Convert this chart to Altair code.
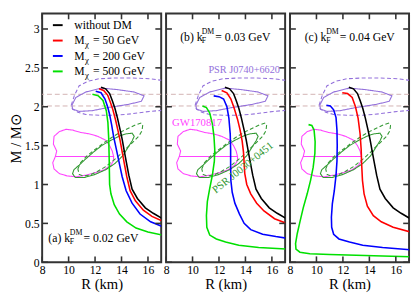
import altair as alt
import pandas as pd

# ---------------- data ----------------
xticks = [8, 10, 12, 14, 16]
yticks = [0, 0.5, 1, 1.5, 2, 2.5, 3]

series_keys = ["noDM", "m50", "m200", "m500"]
legend_pre = ["without DM", "M", "M", "M"]
legend_sub = ["", "χ", "χ", "χ"]
legend_post = ["", "= 50 GeV", "= 200 GeV", "= 500 GeV"]

panel_tags = ["(a)", "(b)", "(c)"]
panel_kf = ["= 0.02 GeV", "= 0.03 GeV", "= 0.04 GeV"]
panel_tag_R = [8.47, 9.07, 9.11]
panel_tag_M = [0.31, 2.90, 2.90]

# without DM (same in every panel)
R_noDM = [12.45, 12.80, 13.10, 13.30, 13.50, 13.70, 13.90, 14.05, 14.20, 14.35, 14.55, 14.80, 15.20, 15.80, 16.40, 17.10]
M_noDM = [2.25, 2.23, 2.17, 2.08, 1.98, 1.85, 1.70, 1.58, 1.44, 1.30, 1.12, 0.94, 0.82, 0.70, 0.63, 0.56]

# (a) kF = 0.02 GeV
R_a50 = [12.30, 12.65, 12.95, 13.15, 13.35, 13.55, 13.75, 13.90, 14.05, 14.20, 14.40, 14.65, 15.05, 15.65, 16.30, 17.10]
M_a50 = [2.23, 2.21, 2.15, 2.06, 1.96, 1.83, 1.68, 1.56, 1.42, 1.28, 1.10, 0.92, 0.79, 0.67, 0.59, 0.53]
R_a200 = [12.05, 12.45, 12.75, 12.95, 13.10, 13.25, 13.40, 13.55, 13.70, 13.85, 14.05, 14.35, 14.80, 15.40, 16.20, 17.10]
M_a200 = [2.20, 2.18, 2.10, 2.00, 1.90, 1.77, 1.62, 1.50, 1.38, 1.26, 1.10, 0.92, 0.76, 0.62, 0.52, 0.46]
R_a500 = [11.80, 12.25, 12.60, 12.85, 12.97, 13.03, 13.06, 13.08, 13.10, 13.20, 13.45, 13.85, 14.40, 15.10, 16.00, 17.10]
M_a500 = [2.16, 2.14, 2.08, 1.95, 1.80, 1.60, 1.40, 1.20, 1.00, 0.88, 0.74, 0.62, 0.52, 0.44, 0.39, 0.35]

# (b) kF = 0.03 GeV
R_b50 = [12.20, 12.60, 12.90, 13.15, 13.40, 13.60, 13.75, 13.85, 13.90, 13.95, 14.10, 14.40, 14.85, 15.40, 16.20, 17.10]
M_b50 = [2.21, 2.18, 2.10, 1.98, 1.84, 1.70, 1.56, 1.42, 1.28, 1.14, 1.00, 0.88, 0.76, 0.66, 0.56, 0.50]
R_b200 = [11.60, 12.00, 12.35, 12.60, 12.75, 12.85, 12.88, 12.88, 12.90, 13.00, 13.20, 13.55, 13.90, 14.40, 15.30, 16.30, 17.10]
M_b200 = [2.14, 2.13, 2.10, 2.00, 1.85, 1.65, 1.45, 1.25, 1.05, 0.90, 0.76, 0.62, 0.50, 0.42, 0.36, 0.33, 0.31]
R_b500 = [10.75, 11.05, 11.30, 11.50, 11.62, 11.68, 11.65, 11.50, 11.30, 11.12, 11.05, 11.08, 11.30, 11.80, 12.50, 13.50, 15.00, 17.10]
M_b500 = [2.01, 1.99, 1.92, 1.78, 1.62, 1.45, 1.30, 1.12, 0.95, 0.78, 0.60, 0.45, 0.35, 0.30, 0.26, 0.22, 0.19, 0.17]

# (c) kF = 0.04 GeV
R_c50 = [11.95, 12.35, 12.70, 12.95, 13.15, 13.30, 13.38, 13.42, 13.48, 13.60, 13.85, 14.30, 14.90, 15.80, 17.10]
M_c50 = [2.18, 2.17, 2.12, 2.00, 1.85, 1.65, 1.45, 1.25, 1.05, 0.88, 0.72, 0.60, 0.52, 0.45, 0.39]
R_c200 = [10.75, 11.05, 11.30, 11.48, 11.55, 11.57, 11.55, 11.48, 11.35, 11.20, 11.13, 11.15, 11.30, 11.70, 12.50, 13.50, 15.00, 17.10]
M_c200 = [2.02, 2.01, 1.96, 1.86, 1.70, 1.50, 1.30, 1.12, 0.92, 0.75, 0.58, 0.45, 0.36, 0.30, 0.26, 0.22, 0.19, 0.16]
R_c500 = [9.40, 9.65, 9.82, 9.90, 9.88, 9.75, 9.55, 9.30, 9.00, 8.75, 8.55, 8.42, 8.45, 8.75, 9.50, 11.00, 13.00, 15.00, 17.10]
M_c500 = [1.77, 1.76, 1.70, 1.55, 1.40, 1.22, 1.05, 0.88, 0.70, 0.52, 0.37, 0.24, 0.17, 0.13, 0.11, 0.10, 0.09, 0.08, 0.07]

# PSR J0740+6620 mass band and contours
j0740_band = [2.01, 2.16]
R_j0740_68 = [10.25, 10.55, 11.30, 12.50, 13.70, 14.95, 15.70, 15.50, 14.50, 13.00, 11.80, 10.80, 10.30, 10.25]
M_j0740_68 = [2.02, 2.12, 2.19, 2.24, 2.22, 2.19, 2.14, 2.07, 2.03, 1.99, 1.95, 1.94, 1.97, 2.02]
R_j0740_95 = [10.20, 10.45, 10.80, 11.50, 12.30, 13.50, 14.80, 16.10, 17.50, 18.50, 18.80, 18.50, 17.50, 16.10, 14.80, 13.50, 12.30, 11.30, 10.70, 10.30, 10.20]
M_j0740_95 = [2.02, 2.15, 2.27, 2.33, 2.36, 2.37, 2.37, 2.36, 2.33, 2.25, 2.13, 2.02, 1.96, 1.94, 1.91, 1.89, 1.89, 1.90, 1.93, 1.97, 2.02]

# GW170817 (two lobes)
R_gw_up = [9.00, 9.10, 8.85, 8.90, 9.30, 9.80, 10.30, 10.90, 11.60, 12.20, 12.80, 13.10, 13.30, 13.40, 9.00]
M_gw_up = [1.36, 1.43, 1.52, 1.62, 1.68, 1.71, 1.70, 1.67, 1.65, 1.62, 1.57, 1.50, 1.43, 1.36, 1.36]
R_gw_lo = [9.00, 8.80, 8.90, 9.30, 9.90, 10.60, 11.30, 12.00, 12.70, 13.20, 13.40, 13.40, 9.00]
M_gw_lo = [1.36, 1.28, 1.20, 1.14, 1.11, 1.10, 1.12, 1.15, 1.19, 1.25, 1.31, 1.36, 1.36]

# PSR J0030+0451
R_j0030_68 = [10.50, 11.20, 12.00, 12.80, 13.50, 14.10, 14.50, 14.80, 14.96, 14.80, 14.30, 13.80, 13.10, 12.50, 11.90, 11.30, 10.80, 10.40, 10.30, 10.50]
M_j0030_68 = [1.09, 1.09, 1.13, 1.19, 1.27, 1.37, 1.48, 1.56, 1.62, 1.66, 1.65, 1.62, 1.56, 1.50, 1.42, 1.33, 1.25, 1.19, 1.14, 1.09]
R_j0030_95 = [10.70, 10.90, 11.40, 12.00, 12.70, 13.40, 14.00, 14.60, 15.10, 15.50, 15.60, 15.55, 15.30, 14.90, 14.40, 14.00, 13.40, 12.80, 12.20, 11.60, 11.10, 10.80, 10.70]
M_j0030_95 = [1.20, 1.28, 1.37, 1.45, 1.54, 1.62, 1.68, 1.73, 1.77, 1.79, 1.76, 1.69, 1.62, 1.55, 1.47, 1.40, 1.31, 1.23, 1.17, 1.12, 1.11, 1.13, 1.20]

obs_texts = ["PSR J0740+6620", "GW170817", "PSR J0030+0451"]
obs_R = [11.20, 8.45, 11.75]
obs_M = [2.47, 1.79, 0.88]

# ---------------- styling / layout ----------------
FONT = "Liberation Serif"
W, H = 122, 255
TICK = 6
FRAME = "#333333"

contour_keys = ["J0740", "GW", "J0030"]
cscale = alt.Scale(domain=series_keys + contour_keys,
                   range=["#000000", "#ff0000", "#0000ff", "#00e000",
                          "#9370db", "#ff44ff", "#339933"])
dscale = alt.Scale(domain=["solid", "dashed"], range=[[1, 0], [4, 2.5]])
xs = alt.Scale(domain=[8, 17], nice=False, zero=False)
ys = alt.Scale(domain=[0, 3.2], nice=False, zero=False)

xaxis = alt.Axis(values=xticks, ticks=False, domain=False, grid=False, labelFlush=False,
                 labelFont=FONT, labelFontSize=12, labelPadding=3, labelColor="black",
                 title="R (km)", titleFont=FONT, titleFontSize=15, titleFontWeight="normal",
                 titlePadding=1, titleColor="black")


def yaxis(show):
    if show:
        return alt.Axis(values=yticks, format="~g", ticks=False, domain=False, grid=False,
                        labelFlush=False, labelFont=FONT, labelFontSize=12, labelPadding=3,
                        labelColor="black", title="M / M⊙", titleFont=FONT, titleFontSize=15,
                        titleFontWeight="normal", titlePadding=1, titleColor="black")
    return alt.Axis(values=yticks, labels=False, ticks=False, domain=False, grid=False, title=None)


def X(f):
    return alt.X(f"{f}:Q", scale=xs, axis=xaxis)


def Y(f, show):
    return alt.Y(f"{f}:Q", scale=ys, axis=yaxis(show))


def long_df(items):
    rows = []
    for key, cid, dash, R, M in items:
        for i, (r, m) in enumerate(zip(R, M)):
            rows.append({"k": key, "id": cid, "d": dash, "i": i, "R": r, "M": m})
    return pd.DataFrame(rows)


contour_df = long_df([
    ("J0740", "j95", "dashed", R_j0740_95, M_j0740_95),
    ("J0740", "j68", "solid", R_j0740_68, M_j0740_68),
    ("GW", "gwu", "solid", R_gw_up, M_gw_up),
    ("GW", "gwl", "solid", R_gw_lo, M_gw_lo),
    ("J0030", "p95", "dashed", R_j0030_95, M_j0030_95),
    ("J0030", "p68", "solid", R_j0030_68, M_j0030_68),
])

panel_curves = [
    [(R_noDM, M_noDM), (R_a50, M_a50), (R_a200, M_a200), (R_a500, M_a500)],
    [(R_noDM, M_noDM), (R_b50, M_b50), (R_b200, M_b200), (R_b500, M_b500)],
    [(R_noDM, M_noDM), (R_c50, M_c50), (R_c200, M_c200), (R_c500, M_c500)],
]

color = alt.Color("k:N", scale=cscale, legend=None)


def panel(p):
    show = p == 0
    layers = []
    layers.append(alt.Chart(pd.DataFrame({"M": j0740_band})).mark_rule(
        color="#d2b2b2", strokeDash=[5, 3], strokeWidth=1).encode(y=Y("M", show)))
    layers.append(alt.Chart(contour_df).mark_line(strokeWidth=1.1, clip=True).encode(
        x=X("R"), y=Y("M", show), color=color,
        strokeDash=alt.StrokeDash("d:N", scale=dscale, legend=None),
        detail="id:N", order="i:Q"))
    cdf = long_df([(k, k, "solid", R, M) for k, (R, M) in zip(series_keys, panel_curves[p])])
    layers.append(alt.Chart(cdf).mark_line(strokeWidth=1.6, clip=True).encode(
        x=X("R"), y=Y("M", show), color=color, detail="id:N", order="i:Q"))

    # inward ticks on all four sides
    xt = alt.Chart(pd.DataFrame({"R": xticks}))
    yt = alt.Chart(pd.DataFrame({"M": yticks}))
    tk = dict(color=FRAME, strokeWidth=1.6)
    layers.append(xt.mark_rule(**tk).encode(x=X("R"), y=alt.value(H), y2=alt.value(H - TICK)))
    layers.append(xt.mark_rule(**tk).encode(x=X("R"), y=alt.value(0), y2=alt.value(TICK)))
    layers.append(yt.mark_rule(**tk).encode(y=Y("M", show), x=alt.value(0), x2=alt.value(TICK)))
    layers.append(yt.mark_rule(**tk).encode(y=Y("M", show), x=alt.value(W), x2=alt.value(W - TICK)))

    # panel tag: (x) k_F^DM = ... GeV
    tb = alt.Chart(pd.DataFrame({"R": [panel_tag_R[p]], "M": [panel_tag_M[p]]}))
    com = dict(font=FONT, color="black", align="left", baseline="middle")
    layers.append(tb.mark_text(text=f"{panel_tags[p]} k", fontSize=12, **com).encode(x=X("R"), y=Y("M", show)))
    layers.append(tb.mark_text(text="DM", fontSize=8, dx=22, dy=-5, **com).encode(x=X("R"), y=Y("M", show)))
    layers.append(tb.mark_text(text="F", fontSize=8, dx=22, dy=4, **com).encode(x=X("R"), y=Y("M", show)))
    layers.append(tb.mark_text(text=panel_kf[p], fontSize=12, dx=36, **com).encode(x=X("R"), y=Y("M", show)))

    if p == 0:
        leg = alt.Chart(pd.DataFrame({"k": series_keys, "idx": list(range(4)), "pre": legend_pre,
                                      "sub": legend_sub, "post": legend_post})
                        ).transform_calculate(ly="12 + 15.8*datum.idx")
        ly = alt.Y("ly:Q", scale=None, axis=None)
        layers.append(leg.mark_rule(strokeWidth=2).encode(x=alt.value(11), x2=alt.value(21), y=ly, color=color))
        layers.append(leg.mark_text(fontSize=12, **com).encode(x=alt.value(33), y=ly, text="pre:N"))
        layers.append(leg.mark_text(fontSize=9, dy=4, **com).encode(x=alt.value(44), y=ly, text="sub:N"))
        layers.append(leg.mark_text(fontSize=12, **com).encode(x=alt.value(52), y=ly, text="post:N"))

    if p == 1:
        ob = alt.Chart(pd.DataFrame({"t": obs_texts, "R": obs_R, "M": obs_M}))
        oc = dict(font=FONT, align="left")
        layers.append(ob.transform_filter("datum.t == 'PSR J0740+6620'").mark_text(
            fontSize=10.5, baseline="middle", color="#9370db", **oc).encode(x=X("R"), y=Y("M", show), text="t:N"))
        layers.append(ob.transform_filter("datum.t == 'GW170817'").mark_text(
            fontSize=11, baseline="middle", color="#ff44ff", **oc).encode(x=X("R"), y=Y("M", show), text="t:N"))
        layers.append(ob.transform_filter("datum.t == 'PSR J0030+0451'").mark_text(
            fontSize=11, baseline="alphabetic", angle=321, color="#339933", **oc).encode(x=X("R"), y=Y("M", show), text="t:N"))

    return alt.layer(*layers).properties(width=W, height=H)


chart = (
    alt.hconcat(panel(0), panel(1), panel(2), spacing=5, bounds="flush")
    .configure(font=FONT)
    .configure_axis(labelFont=FONT, titleFont=FONT)
    .configure_text(font=FONT)
    .configure_view(stroke=FRAME, strokeWidth=2)
    .properties(padding=0, background="white")
)

chart.save("out.html", embed_options={"renderer": "svg", "actions": False})
